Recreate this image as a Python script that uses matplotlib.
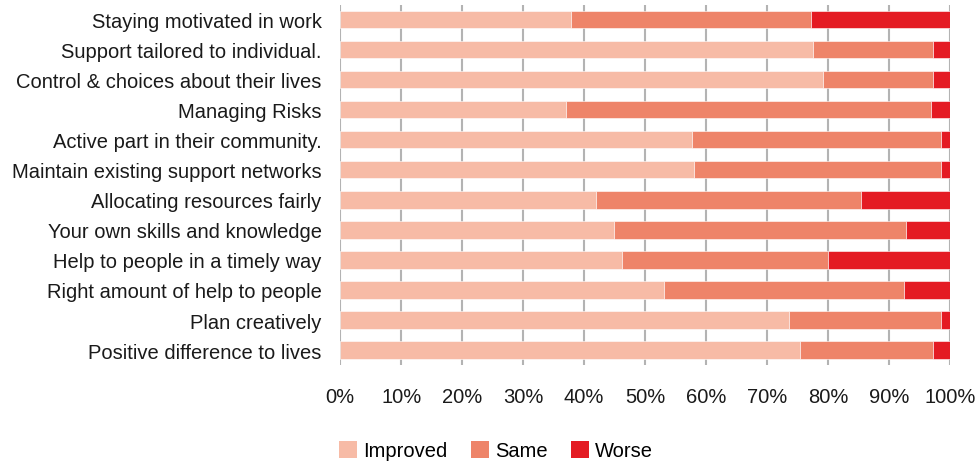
import matplotlib
matplotlib.use("Agg")
import matplotlib.pyplot as plt
from matplotlib.patches import Patch

plt.rcParams['font.family'] = ['Liberation Sans', 'DejaVu Sans']

categories = [
    "Staying motivated in work",
    "Support tailored to individual.",
    "Control & choices about their lives",
    "Managing Risks",
    "Active part in their community.",
    "Maintain existing support networks",
    "Allocating resources fairly",
    "Your own skills and knowledge",
    "Help to people in a timely way",
    "Right amount of help to people",
    "Plan creatively",
    "Positive difference to lives",
]
improved = [37.9, 77.6, 79.2, 37.0, 57.7, 58.0, 41.9, 44.9, 46.2, 53.1, 73.6, 75.4]
same = [39.4, 19.7, 18.1, 59.9, 40.9, 40.6, 43.6, 47.9, 33.8, 39.4, 25.0, 21.9]
worse = [22.7, 2.7, 2.7, 3.1, 1.4, 1.4, 14.5, 7.2, 20.0, 7.5, 1.4, 2.7]
series_names = ["Improved", "Same", "Worse"]
colors = ["#F7BBA6", "#EE8469", "#E41B23"]
x_ticks = [0, 10, 20, 30, 40, 50, 60, 70, 80, 90, 100]

FS = 14.5

fig = plt.figure(figsize=(9.79, 4.64), dpi=100)
ax = fig.add_axes([0.3476, 0.2112, 0.6225, 0.7759])

ypos = list(range(len(categories)))
left = [0.0] * len(categories)
for vals, col in zip([improved, same, worse], colors):
    ax.barh(ypos, vals, left=left, height=0.567, color=col,
            edgecolor="white", linewidth=0.4, zorder=2)
    left = [a + b for a, b in zip(left, vals)]

ax.set_xlim(0, 100)
ax.set_ylim(len(categories) - 0.5, -0.5)
ax.set_yticks(ypos)
ax.set_yticklabels(categories, fontsize=FS, color="#1a1a1a")
ax.set_xticks(x_ticks)
ax.set_xticklabels([f"{t}%" for t in x_ticks], fontsize=FS, color="#1a1a1a")
ax.tick_params(axis="y", length=0, pad=13.4)
ax.tick_params(axis="x", length=0, pad=16)
ax.grid(axis="x", color="#B3B3B3", linewidth=1.5, zorder=1)
for s in ax.spines.values():
    s.set_visible(False)

handles = [Patch(facecolor=c, edgecolor="none") for c in colors]
fig.legend(handles, series_names, loc="center", bbox_to_anchor=(0.5066, 0.0259),
           ncol=3, frameon=False, fontsize=FS, handlelength=0.9,
           handleheight=0.85, handletextpad=0.3, columnspacing=1.15,
           borderpad=0, borderaxespad=0)

fig.savefig("out.png", dpi=100)
